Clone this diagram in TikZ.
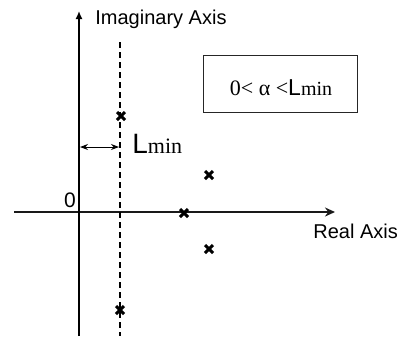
\documentclass[tikz,border=0pt]{standalone}
\usepackage{fontspec}
\setmainfont{Liberation Serif}
\newfontfamily\arialf{Liberation Sans}
\usetikzlibrary{arrows.meta}

\begin{document}
\begin{tikzpicture}[x=0.5pt, y=-0.5pt]
            \useasboundingbox (0,0) rectangle (401,339);

            % axes
            \draw[gray!20!black, line width=0.9pt, -{Stealth[length=5pt, width=4.5pt]}]
                (14,212) -- (335,212);
            \draw[black, line width=0.7pt, -{Latex[length=4pt, width=3.5pt]}]
                (79,336) -- (79,11);
            \node[anchor=base west, inner sep=0pt, font=\arialf\fontsize{10}{12}\selectfont]
                (imlabel) at (95,24) {Imaginary Axis};
            \node[anchor=base west, inner sep=0pt, font=\arialf\fontsize{10}{12}\selectfont]
                (relabel) at (313,238) {Real Axis};
            \node[font=\arialf\fontsize{10.5}{12}\selectfont] (origin) at (70,200) {0};

            % bound line and its distance
            \draw[black, line width=0.6pt, dash pattern=on 3pt off 2pt] (120,42) -- (120,336);
            \coordinate (la) at (80,147);
            \coordinate (lb) at (119,147);
            \draw[black, line width=0.5pt, {Stealth[length=4pt, width=3pt]}-{Stealth[length=4pt, width=3pt]}]
                (la) -- (lb);
            \node[anchor=base west, inner sep=0pt] (lmin) at (132,153)
                {\fontsize{14}{16}\selectfont\arialf L\fontsize{11}{12}\selectfont\rmfamily min};

            % poles
            \foreach \px/\py in {121/116, 184/213, 209/175, 209/249, 120/310}
                {
                    \draw[black, line width=1.5pt] (\px-4,\py-4) -- (\px+4,\py+4);
                    \draw[black, line width=1.5pt] (\px-4,\py+4) -- (\px+4,\py-4);
                }

            % condition box
            \draw[gray!30!black, line width=0.5pt] (203,55) rectangle (357,112);
            \node[anchor=base, inner sep=0pt] (cond) at (281,95)
                {\fontsize{11}{12}\selectfont 0< α <{\arialf\fontsize{11.5}{12}\selectfont L}\fontsize{10}{12}\selectfont min};
        \end{tikzpicture}
\end{document}
